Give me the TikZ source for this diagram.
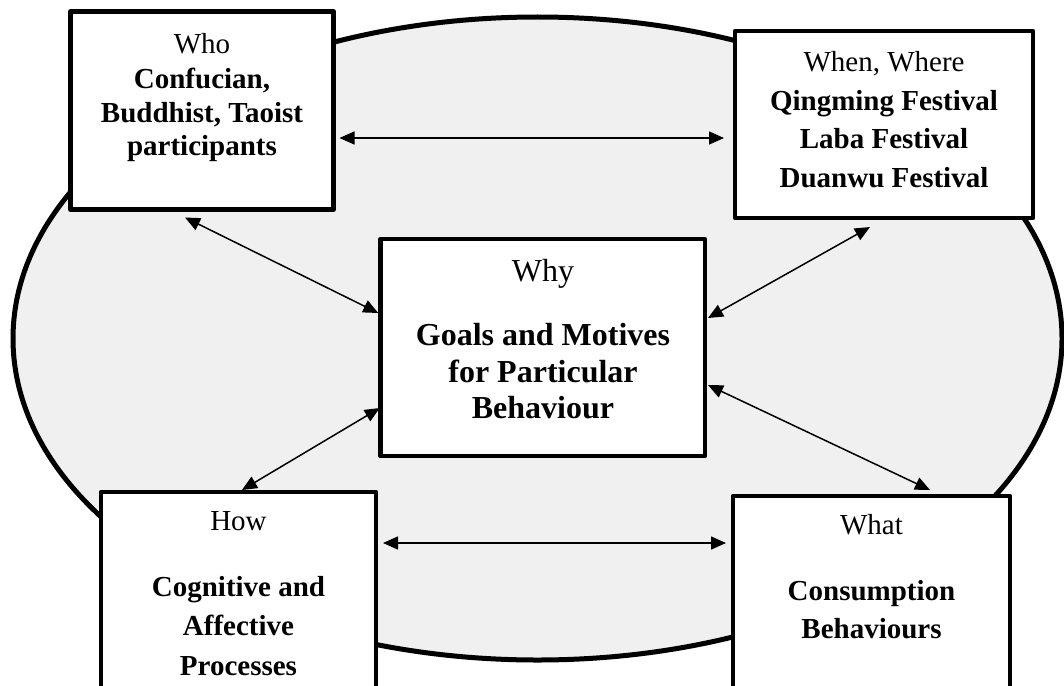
\documentclass[tikz,border=0pt]{standalone}
\usepackage{fontspec}
\setmainfont{Liberation Serif}
\usetikzlibrary{arrows.meta}
\definecolor{ellfill}{HTML}{F0F0F0}
\tikzset{
  box/.style={draw, rectangle, line width=4.5pt, fill=white, inner sep=0pt, line join=round},
  lab/.style={anchor=base, inner sep=0pt, font=\fontsize{29}{34}\selectfont},
  blab/.style={lab, font=\fontsize{29}{34}\selectfont\bfseries},
  clab/.style={anchor=base, inner sep=0pt, font=\fontsize{32}{37}\selectfont},
  cblab/.style={clab, font=\fontsize{32}{37}\selectfont\bfseries},
  biarrow/.style={line width=1.5pt, {Triangle[length=15pt,width=13pt]}-{Triangle[length=15pt,width=13pt]}}
}
\begin{document}
\begin{tikzpicture}[x=1pt,y=-1pt]
\clip (0,0) rectangle (1064,685);
\fill[white] (0,0) rectangle (1064,685);
% background ellipse
\draw[line width=5pt, fill=ellfill] (537.5,338.5) ellipse [x radius=524.5pt, y radius=321.5pt];
% boxes
\node[box, minimum width=263pt, minimum height=198pt] (who) at (202,110.5) {};
\node[box, minimum width=298pt, minimum height=187pt] (when) at (884,124.5) {};
\node[box, minimum width=324.5pt, minimum height=217pt] (why) at (542.75,347.5) {};
\node[box, minimum width=275pt, minimum height=228pt] (how) at (238.5,606) {};
\node[box, minimum width=277pt, minimum height=224pt] (what) at (871.5,608) {};
% texts
\node[lab] (whoA) at (202,53) {Who};
\node[blab] (whoB) at (202,88) {Confucian,};
\node[blab] (whoC) at (202,122) {Buddhist, Taoist};
\node[blab] (whoD) at (202,155.5) {participants};
\node[lab] (whenA) at (884,71) {When, Where};
\node[blab] (whenB) at (884,110) {Qingming Festival};
\node[blab] (whenC) at (884,148.5) {Laba Festival};
\node[blab] (whenD) at (884,187.5) {Duanwu Festival};
\node[clab] (whyA) at (543,281) {Why};
\node[cblab] (whyB) at (543,345) {Goals and Motives};
\node[cblab] (whyC) at (543,382) {for Particular};
\node[cblab] (whyD) at (543,418) {Behaviour};
\node[lab] (howA) at (238.5,530.5) {How};
\node[blab] (howB) at (238.5,596.5) {Cognitive and};
\node[blab] (howC) at (238.5,635.5) {Affective};
\node[blab] (howD) at (238.5,675) {Processes};
\node[lab] (whatA) at (871.5,534) {What};
\node[blab] (whatB) at (871.5,600) {Consumption};
\node[blab] (whatC) at (871.5,638) {Behaviours};
% connectors
\draw[biarrow] ([shift={(3.75,27.5)}]who.east) -- ([shift={(-8.75,13.5)}]when.west);
\draw[biarrow] ([shift={(4.75,-63)}]how.east) -- ([shift={(-4.75,-65)}]what.west);
\draw[biarrow] ([shift={(-17,5.75)}]who.south) -- ([shift={(0,-34.5)}]why.west);
\draw[biarrow] ([shift={(3.5,0.25)}]how.north) -- ([shift={(1.5,60.5)}]why.west);
\draw[biarrow] ([shift={(-14,6.75)}]when.south) -- ([shift={(0.75,-29.5)}]why.east);
\draw[biarrow] ([shift={(0.75,37.5)}]why.east) -- ([shift={(58.5,-3.75)}]what.north);
\end{tikzpicture}
\end{document}
